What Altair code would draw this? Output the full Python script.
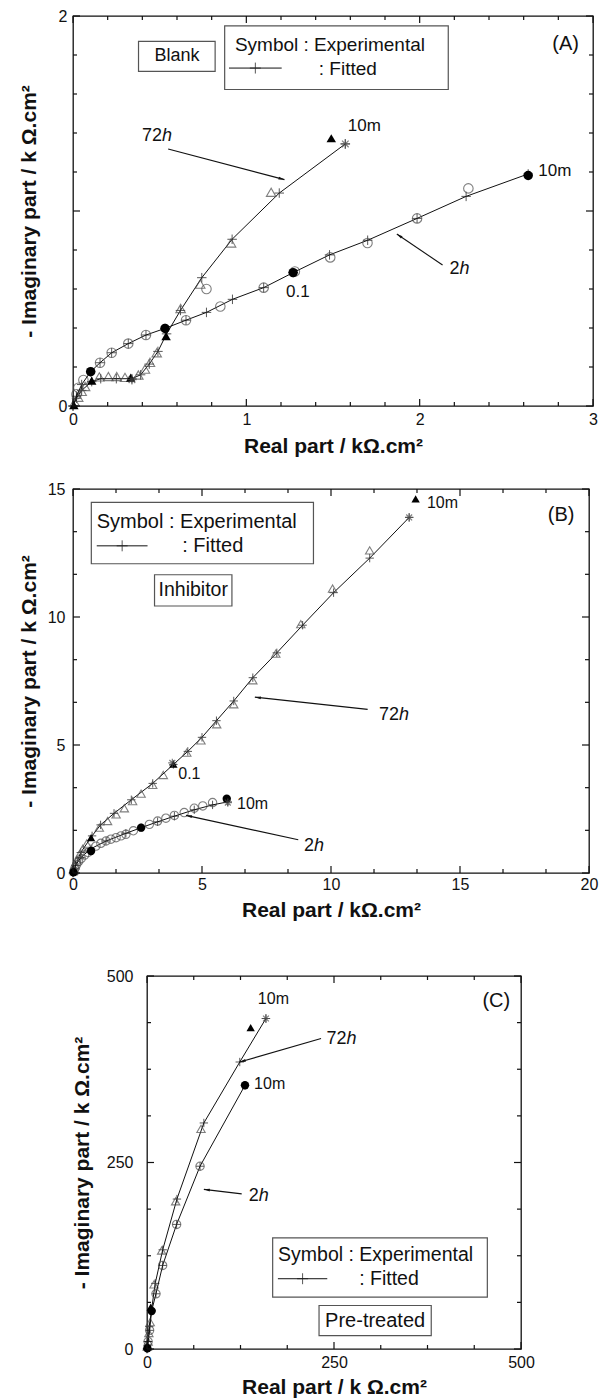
import math
import altair as alt
import pandas as pd

FONT = "Liberation Sans"
INK = "#111111"
GREY = "#4a4a4a"
PLUS = "M-1,0L1,0M0,-1L0,1"
STAR = "M-1,0L1,0M0,-1L0,1M-0.7,-0.7L0.7,0.7M-0.7,0.7L0.7,-0.7"
HEAD = "M0,0L0.7,3L-0.7,3Z"

# ---------------- Panel A : Blank ----------------
A_xmajor = [0, 1, 2, 3]
A_xminor = [0.2, 0.4, 0.6, 0.8, 1.2, 1.4, 1.6, 1.8, 2.2, 2.4, 2.6, 2.8]
A_ymajor = [0, 1, 2]
A_yminor = [0.2, 0.4, 0.6, 0.8, 1.2, 1.4, 1.6, 1.8]

A72_exp_x = [0.01, 0.03, 0.05, 0.07, 0.152, 0.204, 0.252, 0.30, 0.377, 0.415, 0.444, 0.483, 0.621, 0.734, 0.912, 1.143]
A72_exp_y = [0.02, 0.045, 0.075, 0.10, 0.149, 0.151, 0.151, 0.147, 0.159, 0.189, 0.224, 0.273, 0.50, 0.625, 0.836, 1.096]
A72_fit_x = [0.0, 0.02, 0.05, 0.108, 0.16, 0.25, 0.34, 0.39, 0.44, 0.49, 0.54, 0.62, 0.743, 0.918, 1.19, 1.571]
A72_fit_y = [0.0, 0.04, 0.08, 0.125, 0.14, 0.14, 0.14, 0.16, 0.215, 0.28, 0.37, 0.49, 0.658, 0.855, 1.092, 1.344]
A72_fill_x = [0.005, 0.108, 0.333, 0.537, 1.49]
A72_fill_y = [0.005, 0.13, 0.145, 0.358, 1.373]
A72_star_x = [0.34, 1.571]
A72_star_y = [0.135, 1.344]

A2_exp_x = [0.02, 0.031, 0.06, 0.156, 0.223, 0.319, 0.421, 0.652, 0.77, 0.85, 1.10, 1.28, 1.484, 1.699, 1.985, 2.281]
A2_exp_y = [0.06, 0.094, 0.133, 0.222, 0.273, 0.32, 0.364, 0.44, 0.60, 0.51, 0.607, 0.69, 0.762, 0.836, 0.962, 1.116]
A2_fit_x = [0.0, 0.02, 0.05, 0.102, 0.156, 0.223, 0.319, 0.421, 0.531, 0.652, 0.77, 0.92, 1.10, 1.27, 1.48, 1.70, 1.985, 2.268, 2.626]
A2_fit_y = [0.0, 0.05, 0.11, 0.176, 0.222, 0.273, 0.32, 0.364, 0.398, 0.44, 0.48, 0.547, 0.607, 0.684, 0.775, 0.85, 0.962, 1.075, 1.19]
A2_fill_x = [0.102, 0.531, 1.27, 2.626]
A2_fill_y = [0.176, 0.398, 0.684, 1.182]

A_lab_t = ["10m", "10m", "0.1"]
A_lab_x = [1.681, 2.78, 1.297]
A_lab_y = [1.435, 1.204, 0.586]
A_ser_num = ["72", "2"]
A_ser_x = [0.513, 2.23]
A_ser_y = [1.387, 0.702]
A_arr_x = [0.549, 2.132]
A_arr_y = [1.318, 0.723]
A_arr_x2 = [1.22, 1.868]
A_arr_y2 = [1.161, 0.882]

# ---------------- Panel B : Inhibitor ----------------
B_xmajor = [0, 5, 10, 15, 20]
B_xminor = [1.667, 3.333, 6.667, 8.333, 11.667, 13.333, 16.667, 18.333]
B_ymajor = [0, 5, 10, 15]
B_yminor = [1.667, 3.333, 6.667, 8.333, 11.667, 13.333]

B72_exp_x = [0.03, 0.08, 0.15, 0.25, 0.38, 0.53, 1.02, 1.34, 1.67, 1.99, 2.31, 2.64, 3.09, 3.50, 4.41, 4.96, 5.57, 6.23, 6.97, 7.86, 8.83, 10.06, 11.5]
B72_exp_y = [0.1, 0.3, 0.5, 0.72, 0.95, 1.15, 1.77, 2.03, 2.29, 2.53, 2.81, 3.10, 3.44, 3.83, 4.70, 5.18, 5.81, 6.59, 7.53, 8.57, 9.72, 11.11, 12.6]
B72_fit_x = [0.0, 0.1, 0.3, 0.74, 1.07, 1.59, 2.26, 3.09, 3.89, 4.45, 5.0, 5.56, 6.23, 6.97, 7.9, 8.9, 10.1, 11.5, 13.03]
B72_fit_y = [0.0, 0.3, 0.8, 1.45, 1.88, 2.33, 2.86, 3.5, 4.24, 4.75, 5.3, 5.95, 6.72, 7.63, 8.6, 9.68, 10.95, 12.3, 13.89]
B72_fill_x = [0.03, 0.70, 3.89, 13.28]
B72_fill_y = [0.05, 1.38, 4.25, 14.61]
B72_star_x = [3.85, 13.03]
B72_star_y = [4.3, 13.89]

B2_exp_x = [0.04, 0.08, 0.14, 0.22, 0.32, 0.45, 0.58, 0.89, 1.08, 1.28, 1.47, 1.67, 1.86, 2.05, 2.34, 2.96, 3.28, 3.6, 3.93, 4.31, 4.70, 5.03, 5.41]
B2_exp_y = [0.08, 0.2, 0.33, 0.45, 0.57, 0.7, 0.8, 1.05, 1.16, 1.25, 1.32, 1.38, 1.45, 1.51, 1.65, 1.90, 2.03, 2.14, 2.25, 2.36, 2.53, 2.62, 2.75]
B2_fit_x = [0.0, 0.1, 0.3, 0.70, 1.28, 2.05, 2.64, 3.28, 3.93, 4.7, 5.41, 6.0]
B2_fit_y = [0.0, 0.3, 0.6, 0.95, 1.25, 1.55, 1.77, 2.0, 2.22, 2.47, 2.66, 2.78]
B2_fill_x = [0.02, 0.70, 2.64, 5.96]
B2_fill_y = [0.03, 0.86, 1.77, 2.90]
B2_star_x = [6.0]
B2_star_y = [2.75]

B_lab_t = ["10m", "0.1", "10m"]
B_lab_x = [14.32, 4.51, 6.96]
B_lab_y = [14.44, 3.85, 2.68]
B_ser_num = ["72", "2"]
B_ser_x = [12.64, 9.34]
B_ser_y = [6.17, 1.05]
B_arr_x = [11.42, 8.73]
B_arr_y = [6.39, 1.30]
B_arr_x2 = [7.05, 4.38]
B_arr_y2 = [6.87, 2.25]

# ---------------- Panel C : Pre-treated ----------------
C_xmajor = [0, 250, 500]
C_xminor = [62.5, 125, 187.5, 312.5, 375, 437.5]
C_ymajor = [0, 250, 500]
C_yminor = [62.5, 125, 187.5, 312.5, 375, 437.5]

C72_exp_x = [0.5, 1.5, 2.5, 4.3, 9.4, 19.6, 38.3, 72.2]
C72_exp_y = [3, 10, 21.5, 36, 86.7, 132, 198, 295]
C72_fit_x = [0, 1, 3, 6, 11, 21, 40, 76, 124, 159]
C72_fit_y = [0, 10, 30, 52, 88, 133, 201, 303, 384.7, 443]
C72_fill_x = [0.5, 5, 138.6]
C72_fill_y = [4, 56, 430.7]
C72_star_x = [159]
C72_star_y = [443]

C2_exp_x = [1.5, 3.5, 12, 20.9, 39.6, 70.9]
C2_exp_y = [10, 25, 74, 112, 167, 245]
C2_fit_x = [0, 1.5, 3.5, 6.2, 12, 20.9, 39.6, 70.9, 131]
C2_fit_y = [0, 10, 25, 51, 74, 112, 167, 245, 353.5]
C2_fill_x = [0.5, 6.2, 131]
C2_fill_y = [1, 51, 353.5]

C_lab_t = ["10m", "10m"]
C_lab_x = [169, 164]
C_lab_y = [468.6, 355]
C_ser_num = ["72", "2"]
C_ser_x = [266.6, 149.3]
C_ser_y = [416, 205.4]
C_arr_x = [232.7, 126.6]
C_arr_y = [416.1, 208]
C_arr_x2 = [124, 76]
C_arr_y2 = [384.7, 214]


def pts(xs, ys, **extra):
    d = {"x": xs, "y": ys}
    d.update(extra)
    return pd.DataFrame(d)


def build_panel(cfg):
    W, H = cfg["W"], cfg["H"]
    xmax, ymax = cfg["xmax"], cfg["ymax"]
    xs = alt.Scale(domain=[0, xmax], nice=False, zero=False)
    ys = alt.Scale(domain=[0, ymax], nice=False, zero=False)

    xaxis = alt.Axis(values=cfg["xmajor"], title=cfg["xtitle"], ticks=False, domain=False, grid=False,
                     format="d", labelFlush=False, labelOverlap=False, labelFont=FONT, labelFontSize=16,
                     labelColor=INK, labelPadding=cfg["xlp"], titleFont=FONT, titleFontSize=21,
                     titleFontWeight="bold", titleColor=INK, titlePadding=cfg["xtp"])
    yaxis = alt.Axis(values=cfg["ymajor"], title=cfg["ytitle"], ticks=False, domain=False, grid=False,
                     format="d", labelFlush=False, labelOverlap=False, labelFont=FONT, labelFontSize=16,
                     labelColor=INK, labelPadding=cfg["ylp"], titleFont=FONT, titleFontSize=21,
                     titleFontWeight="bold", titleColor=INK, titlePadding=cfg["ytp"])

    def X(f="x"):
        return alt.X(f"{f}:Q", scale=xs, axis=xaxis)

    def Y(f="y"):
        return alt.Y(f"{f}:Q", scale=ys, axis=yaxis)

    layers = []
    msize = cfg["msize"]
    for s in cfg["series"]:
        fit = pts(s["fit_x"], s["fit_y"], o=list(range(len(s["fit_x"]))))
        layers.append(alt.Chart(fit).mark_line(color=INK, strokeWidth=1).encode(
            x=X(), y=Y(), order="o:Q"))
        layers.append(alt.Chart(fit).mark_point(shape=PLUS, size=msize, filled=False,
                                                color=INK, strokeWidth=1).encode(x=X(), y=Y()))
        layers.append(alt.Chart(pts(s["exp_x"], s["exp_y"])).mark_point(
            shape=s["shape"], size=msize, filled=False, color=GREY, strokeWidth=1.1).encode(x=X(), y=Y()))
        layers.append(alt.Chart(pts(s["fill_x"], s["fill_y"])).mark_point(
            shape=s["shape"], size=msize, filled=True, color="black", opacity=1).encode(x=X(), y=Y()))
        if s.get("star_x"):
            layers.append(alt.Chart(pts(s["star_x"], s["star_y"])).mark_point(
                shape=STAR, size=msize, filled=False, color=GREY, strokeWidth=1.2).encode(x=X(), y=Y()))

    # arrows
    sx, sy = W / xmax, H / ymax
    ang = []
    for x1, y1, x2, y2 in zip(cfg["arr_x"], cfg["arr_y"], cfg["arr_x2"], cfg["arr_y2"]):
        dxp = (x2 - x1) * sx
        dyp = -(y2 - y1) * sy
        ang.append(math.degrees(math.atan2(dxp, -dyp)) % 360)
    arr = pd.DataFrame({"x": cfg["arr_x"], "y": cfg["arr_y"], "x2": cfg["arr_x2"],
                        "y2": cfg["arr_y2"], "a": ang})
    layers.append(alt.Chart(arr).mark_rule(color=INK, strokeWidth=1.1).encode(
        x=X(), y=Y(), x2="x2:Q", y2="y2:Q"))
    layers.append(alt.Chart(arr).mark_point(shape=HEAD, size=16, filled=True, color=INK, opacity=1).encode(
        x=X("x2"), y=Y("y2"), angle=alt.Angle("a:Q", scale=None)))

    # series labels "72h" / "2h"  (h in italics)
    ser = pd.DataFrame({"x": cfg["ser_x"], "y": cfg["ser_y"], "t": cfg["ser_num"],
                        "h": ["h"] * len(cfg["ser_num"])})
    layers.append(alt.Chart(ser).mark_text(font=FONT, fontSize=18, align="right", baseline="middle",
                                           color=INK).encode(x=X(), y=Y(), text="t:N"))
    layers.append(alt.Chart(ser).mark_text(font=FONT, fontSize=18, align="left", baseline="middle",
                                           fontStyle="italic", color=INK).encode(x=X(), y=Y(), text="h:N"))

    # frequency labels
    lab = pd.DataFrame({"x": cfg["lab_x"], "y": cfg["lab_y"], "t": cfg["lab_t"]})
    layers.append(alt.Chart(lab).mark_text(font=FONT, fontSize=cfg["labfs"], align="center",
                                           baseline="middle", color=INK).encode(x=X(), y=Y(), text="t:N"))

    # boxes
    bx = pd.DataFrame({"x": cfg["box_x"], "x2": cfg["box_x2"], "y": cfg["box_y"], "y2": cfg["box_y2"]})
    layers.append(alt.Chart(bx).mark_rect(fill="white", stroke="#555555", strokeWidth=1.2).encode(
        x=X(), x2="x2:Q", y=Y(), y2="y2:Q"))

    # legend texts (left aligned)
    tl = pd.DataFrame({"x": cfg["tl_x"], "y": cfg["tl_y"], "t": cfg["tl_t"]})
    layers.append(alt.Chart(tl).mark_text(font=FONT, fontSize=cfg["legfs"], align="left", baseline="middle",
                                          color=INK).encode(x=X(), y=Y(), text="t:N"))
    # condition box text and panel letter (centered)
    tc = pd.DataFrame({"x": [cfg["tc_x"][0]], "y": [cfg["tc_y"][0]], "t": [cfg["tc_t"][0]]})
    layers.append(alt.Chart(tc).mark_text(font=FONT, fontSize=cfg["boxfs"], align="center", baseline="middle",
                                          color=INK).encode(x=X(), y=Y(), text="t:N"))
    tp = pd.DataFrame({"x": [cfg["tc_x"][1]], "y": [cfg["tc_y"][1]], "t": [cfg["tc_t"][1]]})
    layers.append(alt.Chart(tp).mark_text(font=FONT, fontSize=20, align="center", baseline="middle",
                                          color=INK).encode(x=X(), y=Y(), text="t:N"))

    # legend sample line with +
    ls = pd.DataFrame({"x": [cfg["ls_x"][0]], "x2": [cfg["ls_x"][1]], "y": [cfg["ls_y"]],
                       "m": [(cfg["ls_x"][0] + cfg["ls_x"][1]) / 2]})
    layers.append(alt.Chart(ls).mark_rule(color=INK, strokeWidth=1).encode(x=X(), x2="x2:Q", y=Y()))
    layers.append(alt.Chart(ls).mark_point(shape=PLUS, size=120, filled=False, color=INK,
                                           strokeWidth=1).encode(x=X("m"), y=Y()))

    # inward ticks on all four sides
    for vals, L in ((cfg["xmajor"], 7), (cfg["xminor"], 4)):
        t = pd.DataFrame({"v": vals})
        layers.append(alt.Chart(t).mark_rule(color=INK, strokeWidth=1.2).encode(
            x=X("v"), y=alt.value(H), y2=alt.value(H - L)))
        layers.append(alt.Chart(t).mark_rule(color=INK, strokeWidth=1.2).encode(
            x=X("v"), y=alt.value(0), y2=alt.value(L)))
    for vals, L in ((cfg["ymajor"], 7), (cfg["yminor"], 4)):
        t = pd.DataFrame({"v": vals})
        layers.append(alt.Chart(t).mark_rule(color=INK, strokeWidth=1.2).encode(
            y=Y("v"), x=alt.value(0), x2=alt.value(L)))
        layers.append(alt.Chart(t).mark_rule(color=INK, strokeWidth=1.2).encode(
            y=Y("v"), x=alt.value(W), x2=alt.value(W - L)))

    return alt.layer(*layers).properties(
        width=W, height=H, view=alt.ViewBackground(stroke=INK, strokeWidth=1.3, fill="white"))


panelA = build_panel(dict(
    W=520, H=390, xmax=3, ymax=2, xmajor=A_xmajor, xminor=A_xminor, ymajor=A_ymajor, yminor=A_yminor,
    xtitle="Real part / kΩ.cm²", ytitle="- Imaginary part / k Ω.cm²",
    xlp=5, xtp=8, ylp=6, ytp=19, msize=90, labfs=17, legfs=19, boxfs=18,
    series=[
        dict(shape="triangle-up", exp_x=A72_exp_x, exp_y=A72_exp_y, fit_x=A72_fit_x, fit_y=A72_fit_y,
             fill_x=A72_fill_x, fill_y=A72_fill_y, star_x=A72_star_x, star_y=A72_star_y),
        dict(shape="circle", exp_x=A2_exp_x, exp_y=A2_exp_y, fit_x=A2_fit_x, fit_y=A2_fit_y,
             fill_x=A2_fill_x, fill_y=A2_fill_y),
    ],
    arr_x=A_arr_x, arr_y=A_arr_y, arr_x2=A_arr_x2, arr_y2=A_arr_y2,
    ser_num=A_ser_num, ser_x=A_ser_x, ser_y=A_ser_y,
    lab_t=A_lab_t, lab_x=A_lab_x, lab_y=A_lab_y,
    box_x=[0.875, 0.378], box_x2=[2.165, 0.82], box_y=[1.623, 1.716], box_y2=[1.949, 1.87],
    tl_t=["Symbol : Experimental", ": Fitted"], tl_x=[0.934, 1.418], tl_y=[1.853, 1.729],
    tc_t=["Blank", "(A)"], tc_x=[0.6, 2.842], tc_y=[1.795, 1.858],
    ls_x=[0.90, 1.204], ls_y=1.733,
))

panelB = build_panel(dict(
    W=516, H=384, xmax=20, ymax=15, xmajor=B_xmajor, xminor=B_xminor, ymajor=B_ymajor, yminor=B_yminor,
    xtitle="Real part / kΩ.cm²", ytitle="- Imaginary part / k Ω.cm²",
    xlp=3, xtp=7, ylp=8, ytp=8, msize=70, labfs=16, legfs=20, boxfs=19.5,
    series=[
        dict(shape="triangle-up", exp_x=B72_exp_x, exp_y=B72_exp_y, fit_x=B72_fit_x, fit_y=B72_fit_y,
             fill_x=B72_fill_x, fill_y=B72_fill_y, star_x=B72_star_x, star_y=B72_star_y),
        dict(shape="circle", exp_x=B2_exp_x, exp_y=B2_exp_y, fit_x=B2_fit_x, fit_y=B2_fit_y,
             fill_x=B2_fill_x, fill_y=B2_fill_y, star_x=B2_star_x, star_y=B2_star_y),
    ],
    arr_x=B_arr_x, arr_y=B_arr_y, arr_x2=B_arr_x2, arr_y2=B_arr_y2,
    ser_num=B_ser_num, ser_x=B_ser_x, ser_y=B_ser_y,
    lab_t=B_lab_t, lab_x=B_lab_x, lab_y=B_lab_y,
    box_x=[0.71, 3.16], box_x2=[9.32, 6.16], box_y=[12.08, 10.43], box_y2=[14.48, 11.65],
    tl_t=["Symbol : Experimental", ": Fitted"], tl_x=[0.92, 4.23], tl_y=[13.72, 12.78],
    tc_t=["Inhibitor", "(B)"], tc_x=[4.66, 18.92], tc_y=[11.04, 13.98],
    ls_x=[0.92, 2.89], ls_y=12.78,
))

panelC = build_panel(dict(
    W=374, H=373, xmax=500, ymax=500, xmajor=C_xmajor, xminor=C_xminor, ymajor=C_ymajor, yminor=C_yminor,
    xtitle="Real part / k Ω.cm²", ytitle="- Imaginary part / k Ω.cm²",
    xlp=5, xtp=6, ylp=14, ytp=14, msize=70, labfs=16, legfs=19.5, boxfs=20,
    series=[
        dict(shape="triangle-up", exp_x=C72_exp_x, exp_y=C72_exp_y, fit_x=C72_fit_x, fit_y=C72_fit_y,
             fill_x=C72_fill_x, fill_y=C72_fill_y, star_x=C72_star_x, star_y=C72_star_y),
        dict(shape="circle", exp_x=C2_exp_x, exp_y=C2_exp_y, fit_x=C2_fit_x, fit_y=C2_fit_y,
             fill_x=C2_fill_x, fill_y=C2_fill_y),
    ],
    arr_x=C_arr_x, arr_y=C_arr_y, arr_x2=C_arr_x2, arr_y2=C_arr_y2,
    ser_num=C_ser_num, ser_x=C_ser_x, ser_y=C_ser_y,
    lab_t=C_lab_t, lab_x=C_lab_x, lab_y=C_lab_y,
    box_x=[168, 230], box_x2=[455, 380], box_y=[69.5, 17.9], box_y2=[148.9, 58.3],
    tl_t=["Symbol : Experimental", ": Fitted"], tl_x=[175.2, 283.6], tl_y=[126.5, 94.2],
    tc_t=["Pre-treated", "(C)"], tc_x=[305, 467], tc_y=[38, 466],
    ls_x=[175, 241], ls_y=94.2,
))


def spacer(w, h):
    return alt.Chart(pd.DataFrame({"z": [0]})).mark_point(opacity=0, size=1).encode(
        x=alt.value(0), y=alt.value(0)).properties(
        width=w, height=h, view=alt.ViewBackground(stroke="transparent"))


chart = alt.vconcat(
    panelA,
    spacer(1, 83),
    panelB,
    spacer(1, 103),
    alt.hconcat(spacer(74, 1), panelC, spacing=0, bounds="flush"),
    spacing=0,
    bounds="flush",
).properties(padding={"left": 17, "top": 7, "right": 0, "bottom": 0}).configure(
    font=FONT).configure_view(stroke="transparent")

chart.save("out.html", embed_options={"renderer": "svg", "actions": False})
